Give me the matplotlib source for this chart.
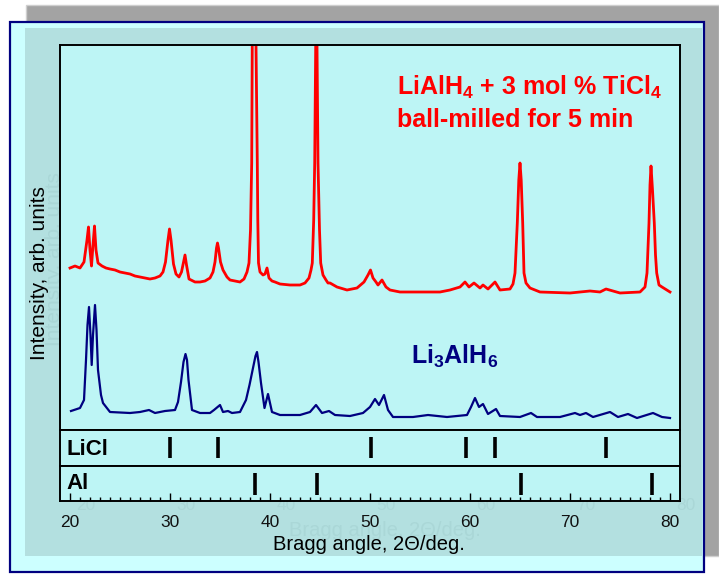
import matplotlib.pyplot as plt
from matplotlib.patches import Rectangle

plt.rcParams['font.family'] = ['Liberation Sans', 'DejaVu Sans']
plt.rcParams['mathtext.fontset'] = 'custom'
plt.rcParams['mathtext.rm'] = 'Liberation Sans:bold'
plt.rcParams['mathtext.default'] = 'rm'

# --- data (2theta in deg, intensity in arb. units) ---
red_x = [20.0, 20.5, 21.0, 21.4, 21.7, 21.85, 22.0, 22.15, 22.3, 22.45, 22.6, 22.8,
         23.2, 23.6, 24.0, 24.5, 25.0, 25.5, 26.0, 26.5, 27.0, 27.5, 28.0, 28.5,
         29.0, 29.3, 29.55, 29.8, 29.95, 30.1, 30.35, 30.6, 30.9, 31.15, 31.35, 31.5,
         31.65, 31.9, 32.5, 33.0, 33.5, 34.0, 34.3, 34.5, 34.65, 34.75, 34.85, 35.05,
         35.3, 35.7, 36.0, 36.5, 37.0, 37.4, 37.7, 37.9, 38.05, 38.17, 38.23, 38.42,
         38.6, 38.73, 38.78, 38.85, 39.0, 39.3, 39.5, 39.7, 39.9, 40.2, 40.5, 41.0,
         42.0, 43.0, 43.5, 43.9, 44.1, 44.23, 44.37, 44.47, 44.57, 44.63, 44.7, 44.8,
         44.95, 45.07, 45.3, 45.6, 45.8, 46.0, 46.7, 47.7, 48.7, 49.4, 49.8, 50.05,
         50.3, 50.6, 50.8, 51.2, 51.6, 52.0, 53.0, 55.0, 57.0, 58.0, 59.0, 59.5,
         59.9, 60.4, 61.0, 61.3, 61.8, 62.5, 63.0, 64.0, 64.3, 64.5, 64.73, 64.88,
         65.0, 65.12, 65.27, 65.4, 65.6, 66.0, 67.0, 70.0, 72.0, 73.0, 73.6, 75.0,
         77.0, 77.5, 77.7, 77.9, 78.0, 78.1, 78.25, 78.43, 78.55, 78.67, 78.9, 79.2,
         80.0]
red_y = [162, 164, 162, 168, 190, 203, 180, 164, 185, 204, 180, 167,
         164, 162, 161, 160, 158, 157, 156, 154, 153, 152, 151, 152,
         154, 158, 168, 190, 201, 190, 166, 156, 153, 158, 168, 175,
         165, 151, 148, 148, 149, 152, 158, 168, 182, 187, 182, 168,
         160, 153, 150, 149, 148, 151, 158, 167, 200, 267, 385, 900,
         385, 267, 210, 167, 158, 155, 156, 162, 152, 149, 148, 146,
         145, 145, 147, 152, 160, 167, 210, 267, 385, 900, 385, 267,
         200, 167, 155, 150, 147, 147, 143, 140, 142, 148, 155, 160,
         152, 148, 145, 150, 143, 140, 138, 138, 138, 140, 143, 148,
         143, 147, 142, 145, 141, 148, 140, 141, 146, 157, 207, 250,
         267, 250, 207, 157, 147, 142, 138, 137, 139, 138, 141, 137,
         138, 143, 157, 207, 245, 264, 240, 207, 175, 157, 145, 143,
         138]

blue_x = [20.1, 21.0, 21.4, 21.6, 21.75, 21.9, 22.05, 22.17, 22.3, 22.5, 22.65, 22.8,
          23.1, 23.3, 24.0, 26.0, 27.0, 27.9, 28.5, 29.5, 30.5, 30.8, 31.1, 31.35,
          31.55, 31.7, 31.85, 32.2, 33.0, 34.0, 34.4, 35.0, 35.3, 35.8, 36.2, 37.0,
          37.6, 37.95, 38.3, 38.55, 38.7, 38.85, 39.1, 39.45, 39.8, 40.2, 41.0, 43.0,
          44.0, 44.6, 45.2, 45.9, 46.5, 48.0, 49.3, 50.0, 50.5, 50.9, 51.4, 51.8,
          52.3, 54.3, 55.8, 57.7, 59.7, 60.1, 60.5, 60.9, 61.3, 61.8, 62.6, 63.0,
          65.0, 66.1, 66.7, 69.0, 70.5, 71.0, 71.6, 72.3, 74.0, 74.8, 75.8, 76.7,
          78.3, 79.2, 80.0]
blue_y = [19, 22, 30, 70, 105, 123, 95, 65, 95, 125, 100, 60,
          35, 27, 18, 17, 18, 20, 17, 19, 20, 28, 48, 68,
          76, 70, 50, 20, 17, 17, 20, 25, 18, 19, 17, 18,
          30, 45, 62, 74, 78, 68, 47, 22, 36, 18, 15, 15,
          18, 25, 17, 19, 15, 14, 17, 23, 31, 25, 35, 20,
          13, 13, 15, 13, 15, 23, 32, 23, 26, 16, 21, 14,
          13, 17, 13, 13, 17, 15, 17, 13, 18, 13, 16, 12,
          17, 13, 12]

licl_pos = [30.0, 34.8, 50.1, 59.6, 62.5, 73.6]
al_pos = [38.5, 44.7, 65.1, 78.2]
tick_vals = [20, 30, 40, 50, 60, 70, 80]

W, H = 719, 575


def fx(px):
    return px / W


def fy(py):
    return 1 - py / H


fig = plt.figure(figsize=(7.19, 5.75), dpi=100)
fig.patch.set_facecolor('white')

# slide background: grey shadow, cyan panel, darker ghost area
fig.add_artist(Rectangle((fx(26), fy(556)), (719 - 26) / W, (556 - 5) / H,
                         facecolor='#a3a3a3', edgecolor='#cfcfcf', lw=1, zorder=-5))
fig.add_artist(Rectangle((fx(10), fy(572)), (704 - 10) / W, (572 - 22) / H,
                         facecolor='#ccffff', edgecolor='#000080', lw=1.6, zorder=-4))
fig.add_artist(Rectangle((fx(25), fy(556)), (702 - 25) / W, (556 - 28) / H,
                         facecolor='#b3e0e0', edgecolor='none', zorder=-3))

# faint ghost of the slide underneath
ghost = '#aad7d7'
for v in tick_vals:
    fig.text(fx(70 + (v - 20) * 10 + 16), fy(506), str(v), ha='center', va='center',
             fontsize=12.5, color=ghost, zorder=-2)
fig.text(fx(385), fy(531), 'Bragg angle, 2\u0398/deg.', ha='center', va='center',
         fontsize=14.5, color=ghost, zorder=-2)
fig.text(fx(55), fy(259), 'Intensity, arb. units', ha='center', va='center',
         rotation=90, fontsize=15, color=ghost, zorder=-2)

plot_bg = '#bdf5f5'
ax = fig.add_axes([fx(60), fy(430), 620 / W, 385 / H])
ax_licl = fig.add_axes([fx(60), fy(466), 620 / W, 36 / H])
ax_al = fig.add_axes([fx(60), fy(501), 620 / W, 35 / H])

for a in (ax, ax_licl, ax_al):
    a.set_facecolor(plot_bg)
    a.set_xlim(19, 81)
    for s in a.spines.values():
        s.set_linewidth(1.4)
        s.set_color('black')

ax.plot(red_x, red_y, color='#ff0000', lw=2.0)
ax.plot(blue_x, blue_y, color='#000080', lw=1.6)
ax.set_ylim(0, 385)
ax.set_xticks([])
ax.set_yticks([])

fig.text(fx(397), fy(87), r'LiAlH$_4$ + 3 mol % TiCl$_4$', ha='left', va='center',
         fontsize=18, fontweight='bold', color='#ff0000')
fig.text(fx(397), fy(120), 'ball-milled for 5 min', ha='left', va='center',
         fontsize=18, fontweight='bold', color='#ff0000')
fig.text(fx(411), fy(356), r'Li$_3$AlH$_6$', ha='left', va='center',
         fontsize=18, fontweight='bold', color='#000080')

ax_licl.vlines(licl_pos, 0.22, 0.81, color='black', lw=2.6)
ax_licl.set_ylim(0, 1)
ax_licl.set_xticks([])
ax_licl.set_yticks([])
ax_licl.text(0.01, 0.45, 'LiCl', transform=ax_licl.transAxes, ha='left', va='center',
             fontsize=16, fontweight='bold')

ax_al.vlines(al_pos, 0.17, 0.8, color='black', lw=2.6)
ax_al.set_ylim(0, 1)
ax_al.set_yticks([])
ax_al.set_xticks(tick_vals)
ax_al.set_xticks(range(20, 81), minor=True)
ax_al.tick_params(axis='x', which='major', direction='in', length=6, width=1,
                  pad=10, labelsize=12.5, labelcolor='#111111')
ax_al.tick_params(axis='x', which='minor', direction='in', length=3, width=1)
ax_al.text(0.01, 0.5, 'Al', transform=ax_al.transAxes, ha='left', va='center',
           fontsize=16, fontweight='bold')

fig.text(fx(369), fy(545), 'Bragg angle, 2\u0398/deg.', ha='center', va='center',
         fontsize=14.5)
fig.text(fx(40), fy(273), 'Intensity, arb. units', ha='center', va='center',
         rotation=90, fontsize=15)

fig.savefig('out.png', dpi=100, facecolor=fig.get_facecolor())
